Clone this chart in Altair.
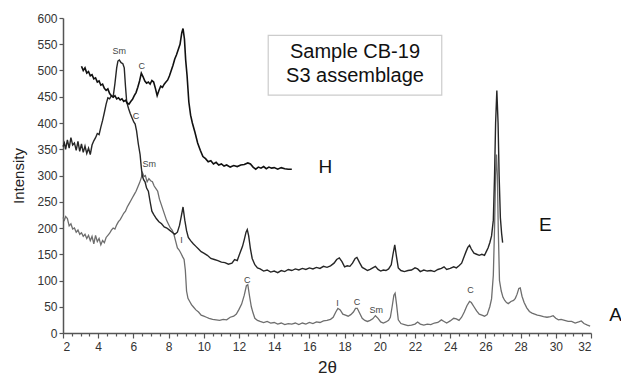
import altair as alt
import pandas as pd

# ---- curve H ----
h_x = [3.05, 3.15, 3.25, 3.35, 3.45, 3.55, 3.65, 3.75, 3.85, 3.95, 4.05, 4.15, 4.25, 4.35, 4.45, 4.55, 4.65, 4.75, 4.85, 4.95,
       5.05, 5.15, 5.25, 5.35, 5.45, 5.55, 5.65, 5.75, 5.85, 5.95, 6.05, 6.15, 6.25, 6.35, 6.45, 6.55, 6.65, 6.75, 6.85, 6.95,
       7.05, 7.15, 7.25, 7.35, 7.45, 7.55, 7.65, 7.75, 7.85, 7.95, 8.05, 8.15, 8.25, 8.35, 8.45, 8.55, 8.65, 8.75, 8.82, 8.9,
       8.97, 9.05, 9.15, 9.25, 9.35, 9.5, 9.65, 9.8, 9.95, 10.1, 10.25, 10.4, 10.55, 10.7, 10.85, 11.0, 11.15, 11.3, 11.5, 11.7,
       11.9, 12.1, 12.3, 12.5, 12.65, 12.8, 12.95, 13.1, 13.25, 13.4, 13.55, 13.7, 13.85, 14.0, 14.2, 14.4, 14.6, 14.8, 15.0]
h_y = [508, 500, 505, 495, 498, 490, 492, 484, 486, 478, 480, 472, 474, 466, 462, 465, 456, 452, 449, 452,
       446, 448, 444, 446, 441, 443, 438, 436, 441, 445, 452, 458, 468, 480, 495, 488, 480, 476, 478, 474,
       481, 478, 466, 452, 462, 470, 468, 474, 478, 482, 490, 500, 510, 522, 530, 540, 550, 572, 580, 560,
       520, 490, 440, 415, 400, 382, 362, 348, 336, 332, 326, 328, 322, 325, 320, 322, 318, 320, 316, 319,
       317, 320, 321, 324, 322, 316, 312, 316, 314, 317, 313, 316, 314, 315, 312, 315, 313, 312, 312]

# ---- curve E ----
e_x = [2.0, 2.08, 2.15, 2.25, 2.35, 2.45, 2.55, 2.65, 2.75, 2.85, 2.95, 3.05, 3.15, 3.25, 3.35, 3.45, 3.55, 3.65, 3.75, 3.85,
       3.95, 4.05, 4.15, 4.25, 4.35, 4.45, 4.55, 4.65, 4.75, 4.85, 4.95, 5.05, 5.12, 5.2, 5.3, 5.4, 5.48, 5.55, 5.62, 5.72,
       5.82, 5.92, 6.02, 6.1, 6.18, 6.28, 6.38, 6.45, 6.5, 6.58, 6.66, 6.75, 6.85, 6.95, 7.05, 7.15, 7.3, 7.45, 7.6, 7.75,
       7.9, 8.05, 8.2, 8.35, 8.5, 8.62, 8.72, 8.82, 8.92, 9.02, 9.12, 9.25, 9.4, 9.55, 9.7, 9.85, 10.0, 10.2, 10.4, 10.6,
       10.8, 11.0, 11.2, 11.4, 11.6, 11.75, 11.9, 12.05, 12.2, 12.3, 12.4, 12.47, 12.55, 12.65, 12.75, 12.9, 13.05, 13.2, 13.4, 13.6,
       13.8, 14.0, 14.2, 14.4, 14.6, 14.8, 15.0, 15.2, 15.4, 15.6, 15.8, 16.0, 16.2, 16.4, 16.6, 16.8, 17.0, 17.2, 17.4, 17.55,
       17.7, 17.85, 18.0, 18.15, 18.3, 18.45, 18.6, 18.7, 18.85, 19.0, 19.15, 19.3, 19.45, 19.6, 19.75, 19.9, 20.05, 20.2, 20.35, 20.5,
       20.65, 20.75, 20.85, 20.95, 21.05, 21.2, 21.4, 21.6, 21.8, 22.0, 22.15, 22.3, 22.5, 22.7, 22.9, 23.1, 23.3, 23.5, 23.65, 23.8,
       24.0, 24.2, 24.35, 24.5, 24.65, 24.75, 24.9, 25.0, 25.1, 25.2, 25.35, 25.5, 25.65, 25.8, 25.95, 26.05, 26.15, 26.25, 26.35, 26.45,
       26.52, 26.58, 26.65, 26.72, 26.78, 26.85, 26.92, 26.98]
e_y = [355, 362, 350, 368, 352, 372, 358, 362, 348, 365, 346, 360, 344, 356, 342, 352, 340, 358, 366, 372,
       380, 378, 392, 405, 420, 436, 448, 446, 452, 450, 475, 505, 518, 520, 515, 513, 505, 470, 440, 428,
       418, 410, 402, 398, 385, 360, 340, 315, 300, 292, 288, 276, 270, 250, 232, 226, 218, 212, 208, 202,
       200, 196, 192, 188, 192, 205, 222, 240, 215, 195, 182, 176, 170, 165, 160, 155, 152, 148, 142, 140,
       138, 135, 134, 131, 133, 140, 138, 152, 165, 178, 192, 197, 185, 160, 142, 130, 124, 122, 118, 120,
       116, 118, 115, 119, 117, 121, 119, 122, 120, 123, 121, 124, 122, 125, 123, 127, 125, 128, 133, 140,
       143, 136, 126, 128, 127, 133, 142, 144, 134, 125, 122, 119, 121, 124, 127, 121, 118, 120, 119, 122,
       130, 150, 168, 145, 124, 119, 117, 119, 120, 124, 122, 117, 120, 118, 119, 117, 121, 123, 126, 121,
       123, 126, 124, 128, 133, 142, 155, 163, 167, 160, 152, 150, 148, 150, 148, 155, 162, 172, 185, 215,
       300, 400, 462, 400, 300, 220, 190, 172]

# ---- curve A ----
a_x = [2.0, 2.08, 2.15, 2.25, 2.35, 2.45, 2.55, 2.65, 2.75, 2.85, 2.95, 3.05, 3.15, 3.25, 3.35, 3.45, 3.55, 3.65, 3.75, 3.85,
       3.95, 4.05, 4.15, 4.25, 4.35, 4.45, 4.55, 4.65, 4.75, 4.85, 4.95, 5.05, 5.15, 5.25, 5.35, 5.45, 5.55, 5.65, 5.75, 5.85,
       5.95, 6.05, 6.15, 6.25, 6.35, 6.45, 6.52, 6.6, 6.68, 6.78, 6.88, 6.98, 7.08, 7.18, 7.28, 7.38, 7.48, 7.58, 7.68, 7.78,
       7.88, 7.98, 8.1, 8.2, 8.3, 8.4, 8.5, 8.6, 8.7, 8.8, 8.88, 8.95, 9.02, 9.1, 9.2, 9.3, 9.4, 9.55, 9.7, 9.85,
       10.0, 10.15, 10.3, 10.5, 10.7, 10.9, 11.1, 11.3, 11.5, 11.7, 11.85, 12.0, 12.15, 12.3, 12.42, 12.5, 12.6, 12.7, 12.8, 12.9,
       13.05, 13.2, 13.4, 13.6, 13.8, 14.0, 14.2, 14.4, 14.6, 14.8, 15.0, 15.2, 15.4, 15.6, 15.8, 16.0, 16.2, 16.4, 16.6, 16.8,
       17.0, 17.2, 17.35, 17.5, 17.62, 17.75, 17.9, 18.05, 18.2, 18.35, 18.5, 18.62, 18.72, 18.85, 19.0, 19.15, 19.3, 19.45, 19.6, 19.75,
       19.9, 20.05, 20.2, 20.35, 20.5, 20.6, 20.7, 20.8, 20.87, 20.95, 21.05, 21.2, 21.4, 21.6, 21.8, 22.0, 22.15, 22.3, 22.5, 22.7,
       22.9, 23.1, 23.3, 23.5, 23.65, 23.8, 24.0, 24.2, 24.35, 24.5, 24.65, 24.8, 24.95, 25.1, 25.2, 25.35, 25.5, 25.65, 25.8, 25.95,
       26.1, 26.25, 26.35, 26.45, 26.52, 26.58, 26.63, 26.68, 26.73, 26.8, 26.9, 27.0, 27.1, 27.2, 27.3, 27.45, 27.6, 27.7, 27.8, 27.9,
       27.98, 28.08, 28.2, 28.35, 28.5, 28.65, 28.8, 28.95, 29.1, 29.3, 29.5, 29.7, 29.85, 30.0, 30.15, 30.3, 30.5, 30.7, 30.9, 31.1,
       31.3, 31.45, 31.6, 31.8, 31.95]
a_y = [220, 215, 222, 218, 204, 208, 198, 200, 192, 196, 188, 191, 184, 188, 180, 186, 176, 184, 170, 186,
       174, 180, 168, 176, 172, 182, 186, 190, 196, 200, 198, 206, 212, 216, 222, 228, 232, 240, 246, 252,
       258, 264, 270, 278, 286, 296, 305, 298, 300, 288, 294, 290, 288, 280, 275, 270, 255, 245, 235, 225,
       215, 208, 200, 196, 188, 175, 162, 158, 152, 145, 140, 120, 80, 66, 60, 54, 50, 44, 40, 34,
       32, 30, 28, 26, 25, 24, 26, 25, 30, 32, 36, 45, 55, 72, 90, 92, 70, 50, 38, 28,
       24, 22, 20, 22, 19, 20, 17, 19, 16, 18, 17, 19, 16, 19, 17, 20, 18, 21, 20, 23,
       24, 26, 30, 40, 47, 44, 36, 34, 32, 35, 40, 47, 47, 38, 28, 24, 22, 24, 27, 33,
       28, 21, 19, 21, 24, 30, 50, 72, 76, 55, 25, 18, 16, 14, 15, 17, 21, 17, 15, 17,
       16, 19, 20, 25, 22, 19, 23, 28, 27, 24, 30, 40, 52, 60, 58, 50, 42, 36, 34, 32,
       35, 50, 65, 110, 200, 300, 340, 300, 200, 100, 80, 68, 62, 58, 56, 60, 62, 66, 74, 85,
       86, 70, 58, 48, 41, 38, 36, 34, 33, 31, 30, 31, 33, 28, 25, 26, 24, 22, 22, 19,
       21, 23, 18, 15, 13]

# ---- annotations ----
peak_labels = ["Sm", "C", "C", "Sm", "I", "C", "I", "C", "Sm", "C"]
peak_x = [5.2, 6.47, 6.15, 6.9, 8.74, 12.47, 17.6, 18.7, 19.8, 25.16]
peak_y = [537, 509, 414, 321, 177, 101, 57, 60, 44, 82]

curve_names = ["H", "E", "A"]
curve_label_x = [16.9, 29.4, 33.4]
curve_label_y = [316, 205, 35]

box_x = [13.66, 23.52]
box_y = [453, 567]
box_lines = ["Sample CB-19", "S3 assemblage"]
box_line_y = [535, 490]

x_ticks = [2 + 0.5 * i for i in range(61)]
y_ticks = list(range(0, 601, 50))

FONT = "Liberation Sans"

df_h = pd.DataFrame({"x": h_x, "y": h_y})
df_e = pd.DataFrame({"x": e_x, "y": e_y})
df_a = pd.DataFrame({"x": a_x, "y": a_y})
df_peaks = pd.DataFrame({"t": peak_labels, "x": peak_x, "y": peak_y})
df_curves = pd.DataFrame({"t": curve_names, "x": curve_label_x, "y": curve_label_y})
df_box = pd.DataFrame({"x": [box_x[0]], "x2": [box_x[1]], "y": [box_y[0]], "y2": [box_y[1]]})
df_boxtext = pd.DataFrame({"t": box_lines, "x": [(box_x[0] + box_x[1]) / 2] * 2, "y": box_line_y})

xs = alt.Scale(domain=[2, 32], nice=False, zero=False)
ys = alt.Scale(domain=[0, 600], nice=False)

x_axis = alt.Axis(values=x_ticks, title="2θ", orient="bottom", grid=False,
                  tickSize={"condition": {"test": "datum.value % 2 === 0", "value": 5}, "value": 3},
                  labelExpr="datum.value % 2 === 0 ? format(datum.value, 'd') : ''", labelOverlap=False,
                  labelFontSize=12, labelColor="#333", titleFontSize=17, titleFontWeight="normal",
                  titleColor="#222", titlePadding=7, domainColor="#555", domainWidth=1.5,
                  tickColor="#555", tickWidth=1.2, labelFont=FONT, titleFont=FONT, labelPadding=3)
y_axis = alt.Axis(values=y_ticks, title="Intensity", grid=False, tickSize=4, labelFontSize=12,
                  labelOverlap=False, labelColor="#333", titleFontSize=15, titleFontWeight="normal",
                  titleColor="#222", titlePadding=10, domainColor="#555", domainWidth=1.5,
                  tickColor="#555", tickWidth=1.2, labelFont=FONT, titleFont=FONT)

X = alt.X("x:Q", scale=xs, axis=x_axis)
Y = alt.Y("y:Q", scale=ys, axis=y_axis)

line_a = alt.Chart(df_a).mark_line(color="#6e6e6e", strokeWidth=1.3).encode(x=X, y=Y)
line_e = alt.Chart(df_e).mark_line(color="#262626", strokeWidth=1.4).encode(x=X, y=Y)
line_h = alt.Chart(df_h).mark_line(color="#111111", strokeWidth=1.6).encode(x=X, y=Y)
peaks = alt.Chart(df_peaks).mark_text(fontSize=9, color="#444", font=FONT).encode(x=X, y=Y, text="t:N")
curves = alt.Chart(df_curves).mark_text(fontSize=19, color="#111", font=FONT).encode(x=X, y=Y, text="t:N")
box = alt.Chart(df_box).mark_rect(fill="white", stroke="#cccccc", strokeWidth=1.2).encode(
    x=X, x2="x2:Q", y=Y, y2="y2:Q")
boxtext = alt.Chart(df_boxtext).mark_text(fontSize=20, color="#111", font=FONT).encode(x=X, y=Y, text="t:N")

chart = alt.layer(line_a, line_e, line_h, peaks, curves, box, boxtext).properties(
    width=528, height=315,
    autosize=alt.AutoSizeParams(type="none"),
    padding={"left": 63, "top": 18, "right": 30, "bottom": 47},
).configure_view(stroke=None)

chart.save("out.html", embed_options={"renderer": "svg", "actions": False})
